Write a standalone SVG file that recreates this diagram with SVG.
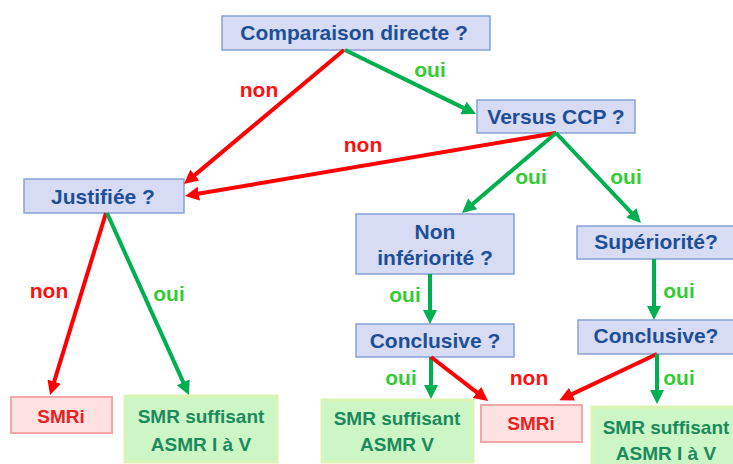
<svg xmlns="http://www.w3.org/2000/svg" width="733" height="464" viewBox="0 0 733 464">
<style>
.q rect{fill:#d8dbf4;stroke:#86a2d4;stroke-width:1.5}
.q text{font-family:"Liberation Sans",Arial,sans-serif;font-weight:bold;font-size:21px;fill:#1c4f96;text-anchor:middle}
.g rect{fill:#cdf6c6;stroke:#dbf4b4;stroke-width:3}
.g text{font-family:"Liberation Sans",Arial,sans-serif;font-weight:bold;font-size:19px;fill:#1b8a5c;text-anchor:middle}
.r rect{fill:#fee1e1;stroke:#f5a6a6;stroke-width:2}
.r text{font-family:"Liberation Sans",Arial,sans-serif;font-weight:bold;font-size:19px;fill:#e82222;text-anchor:middle}
.lr{stroke:#ff0000;stroke-width:4;fill:none;marker-end:url(#ar)}
.lg{stroke:#00b050;stroke-width:4;fill:none;marker-end:url(#ag)}
.lbl{font-family:"Liberation Sans",Arial,sans-serif;font-weight:bold;font-size:21px;text-anchor:middle}
.non{fill:#ff1010}
.oui{fill:#33cc33}
</style>
<defs>
<marker id="ar" markerUnits="userSpaceOnUse" markerWidth="15" markerHeight="15" refX="4" refY="7" orient="auto"><path d="M0,0 L14,7 L0,14 z" fill="#ff0000"/></marker>
<marker id="ag" markerUnits="userSpaceOnUse" markerWidth="15" markerHeight="15" refX="4" refY="7" orient="auto"><path d="M0,0 L14,7 L0,14 z" fill="#00b050"/></marker>
</defs>
<rect width="733" height="464" fill="#ffffff"/>
<g id="comparaison" class="q"><rect x="222" y="16" width="268" height="34"/><text x="354" y="40">Comparaison directe ?</text></g>
<g id="versus" class="q"><rect x="477" y="100" width="158" height="33"/><text x="556" y="124">Versus CCP ?</text></g>
<g id="justifiee" class="q"><rect x="24" y="179" width="160" height="34"/><text x="103" y="204">Justifiée ?</text></g>
<g id="noninf" class="q"><rect x="356" y="214" width="158" height="60"/><text x="435" y="239">Non</text><text x="435" y="265">infériorité ?</text></g>
<g id="conclusive1" class="q"><rect x="356" y="324" width="158" height="33"/><text x="435" y="348">Conclusive ?</text></g>
<g id="superiorite" class="q"><rect x="577" y="226" width="160" height="33"/><text x="656" y="249">Supériorité?</text></g>
<g id="conclusive2" class="q"><rect x="578" y="320" width="160" height="34"/><text x="656" y="343">Conclusive?</text></g>
<g id="smri1" class="r"><rect x="11" y="397" width="101" height="36"/><text x="61" y="423">SMRi</text></g>
<g id="smr1" class="g"><rect x="125" y="396" width="152" height="66"/><text x="201" y="423">SMR suffisant</text><text x="201" y="451">ASMR I à V</text></g>
<g id="smr2" class="g"><rect x="322" y="400" width="151" height="62"/><text x="397" y="425">SMR suffisant</text><text x="397" y="451">ASMR V</text></g>
<g id="smri2" class="r"><rect x="481" y="405" width="101" height="37"/><text x="531" y="430">SMRi</text></g>
<g id="smr3" class="g"><rect x="592" y="407" width="150" height="64"/><text x="666" y="434">SMR suffisant</text><text x="666" y="460">ASMR I à V</text></g>
<g id="connectors">
<line class="lr" x1="344" y1="50" x2="191.7" y2="177.6"/>
<line class="lg" x1="345" y1="50" x2="467" y2="109.6"/>
<line class="lr" x1="556" y1="133" x2="194.9" y2="194.3"/>
<line class="lr" x1="106" y1="213" x2="53" y2="385.4"/>
<line class="lg" x1="107" y1="213" x2="184.9" y2="385.9"/>
<line class="lg" x1="556" y1="133" x2="469.6" y2="206.5"/>
<line class="lg" x1="556" y1="133" x2="634.1" y2="215.7"/>
<line class="lg" x1="430" y1="274" x2="430" y2="314"/>
<line class="lg" x1="654" y1="259" x2="654" y2="310"/>
<line class="lg" x1="431" y1="357" x2="431" y2="389"/>
<line class="lr" x1="431" y1="357" x2="480.1" y2="394.9"/>
<line class="lr" x1="657" y1="354" x2="568.4" y2="395.9"/>
<line class="lg" x1="657" y1="354" x2="657" y2="394"/>
</g>
<g id="labels">
<text class="lbl non" x="259" y="97">non</text>
<text class="lbl oui" x="430" y="77">oui</text>
<text class="lbl non" x="363" y="152">non</text>
<text class="lbl non" x="49" y="298">non</text>
<text class="lbl oui" x="169" y="301">oui</text>
<text class="lbl oui" x="531" y="184">oui</text>
<text class="lbl oui" x="626" y="184">oui</text>
<text class="lbl oui" x="405" y="302">oui</text>
<text class="lbl oui" x="679" y="298">oui</text>
<text class="lbl oui" x="401" y="385">oui</text>
<text class="lbl non" x="529" y="385">non</text>
<text class="lbl oui" x="679" y="385">oui</text>
</g>
</svg>
